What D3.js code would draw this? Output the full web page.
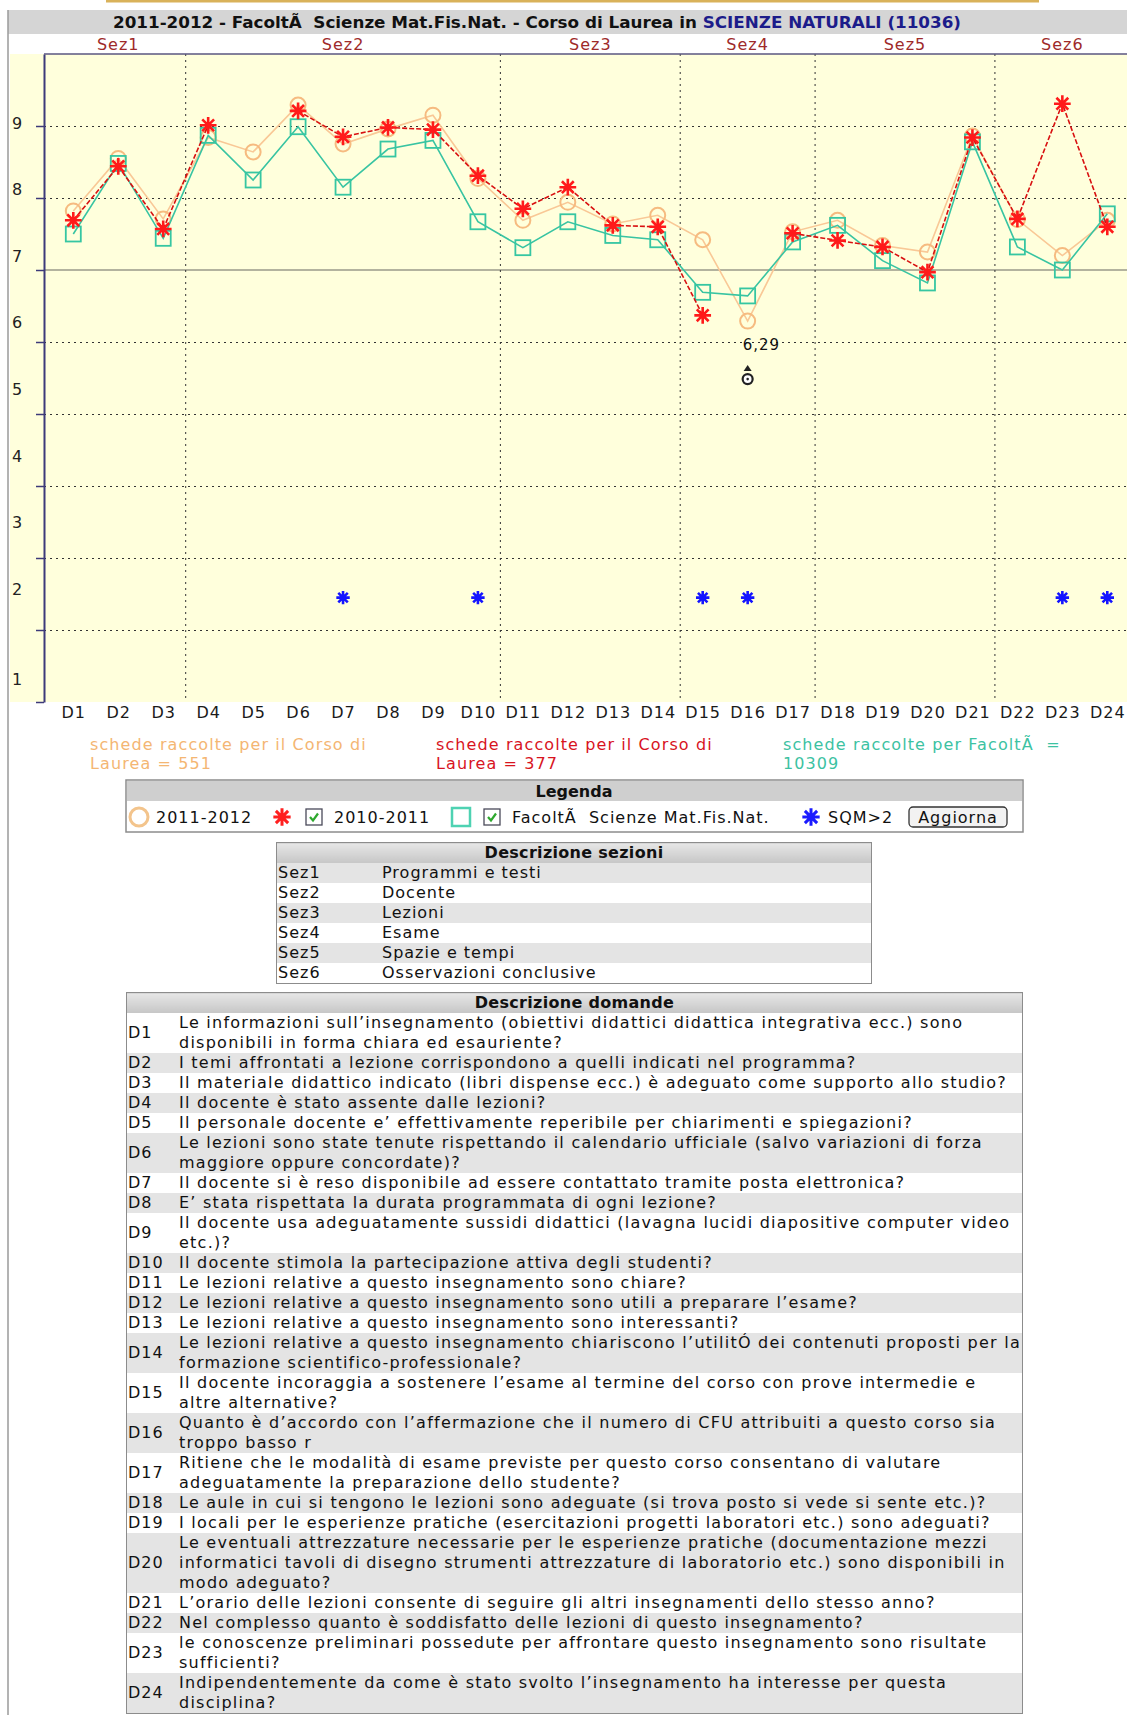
<!DOCTYPE html>
<html>
<head>
<meta charset="utf-8">
<style>
  body { margin: 0; background: #fff; }
  #page { position: relative; width: 1127px; height: 1715px; overflow: hidden; }
  #page svg { position: absolute; left: 0; top: 0; }
  svg text { font-family: "DejaVu Sans", Verdana, sans-serif; }
  .grid line { stroke: #333; stroke-dasharray: 2,4; }
  .grid path { display: none; }
  table.desc {
    position: absolute;
    border-collapse: collapse;
    border: 1px solid #8c8c8c;
    font: 16px "DejaVu Sans", Verdana, sans-serif;
    letter-spacing: 1px;
    line-height: 20px;
    color: #111;
    background: #fff;
  }
  table.desc.wide { letter-spacing: 1.25px; }
  table.desc th {
    background: linear-gradient(#e6e6e6, #c6c6c6);
    font-weight: bold;
    text-align: center;
    padding: 0;
    height: 20px;
    letter-spacing: 0.3px;
  }
  table.desc td { padding: 0 0 0 1px; vertical-align: middle; white-space: pre; }
  table.desc tr.alt td { background: #e4e4e4; }
</style>
</head>
<body>
<div id="page"></div>
<script src="https://cdnjs.cloudflare.com/ajax/libs/d3/7.8.5/d3.min.js"></script>
<script>

// ---- data ----
var questions = ["D1","D2","D3","D4","D5","D6","D7","D8","D9","D10","D11","D12",
                 "D13","D14","D15","D16","D17","D18","D19","D20","D21","D22","D23","D24"];
var questionSection = ["Sez1","Sez1","Sez1","Sez2","Sez2","Sez2","Sez2","Sez2","Sez2","Sez2",
                       "Sez3","Sez3","Sez3","Sez3","Sez4","Sez4","Sez4","Sez5","Sez5","Sez5","Sez5",
                       "Sez6","Sez6","Sez6"];
var sections = ["Sez1","Sez2","Sez3","Sez4","Sez5","Sez6"];
var sectionNames = ["Programmi e testi","Docente","Lezioni","Esame","Spazie e tempi","Osservazioni conclusive"];

var vals2011 = [7.82, 8.55, 7.71, 8.84, 8.64, 9.29, 8.75, 8.96, 9.15, 8.27, 7.69, 7.94,
                7.64, 7.76, 7.42, 6.29, 7.53, 7.69, 7.34, 7.25, 8.86, 7.70, 7.20, 7.69];
var vals2010 = [7.69, 8.44, 7.57, 9.01, null, 9.21, 8.85, 8.98, 8.95, 8.31, 7.85, 8.15,
                7.62, 7.60, 6.37, null, 7.51, 7.41, 7.32, 6.97, 8.84, 7.71, 9.31, 7.60];
var valsFacolta = [7.50, 8.48, 7.44, 8.87, 8.25, 8.99, 8.15, 8.68, 8.80, 7.67, 7.31, 7.67,
                   7.48, 7.42, 6.69, 6.64, 7.39, 7.62, 7.13, 6.82, 8.78, 7.32, 7.00, 7.78];
var sqmQuestions = ["D7","D10","D15","D16","D23","D24"];
var sqmLevel = 2.45;

var yTicks = [1,2,3,4,5,6,7,8,9];
var threshold = 7;
var counts = [551, 377, 10309];

var questionTexts = [
  "Le informazioni sull’insegnamento (obiettivi didattici didattica integrativa ecc.) sono\ndisponibili in forma chiara ed esauriente?",
  "I temi affrontati a lezione corrispondono a quelli indicati nel programma?",
  "Il materiale didattico indicato (libri dispense ecc.) è adeguato come supporto allo studio?",
  "Il docente è stato assente dalle lezioni?",
  "Il personale docente e’ effettivamente reperibile per chiarimenti e spiegazioni?",
  "Le lezioni sono state tenute rispettando il calendario ufficiale (salvo variazioni di forza\nmaggiore oppure concordate)?",
  "Il docente si è reso disponibile ad essere contattato tramite posta elettronica?",
  "E’ stata rispettata la durata programmata di ogni lezione?",
  "Il docente usa adeguatamente sussidi didattici (lavagna lucidi diapositive computer video\netc.)?",
  "Il docente stimola la partecipazione attiva degli studenti?",
  "Le lezioni relative a questo insegnamento sono chiare?",
  "Le lezioni relative a questo insegnamento sono utili a preparare l’esame?",
  "Le lezioni relative a questo insegnamento sono interessanti?",
  "Le lezioni relative a questo insegnamento chiariscono l’utilitÓ dei contenuti proposti per la\nformazione scientifico-professionale?",
  "Il docente incoraggia a sostenere l’esame al termine del corso con prove intermedie e\naltre alternative?",
  "Quanto è d’accordo con l’affermazione che il numero di CFU attribuiti a questo corso sia\ntroppo basso r",
  "Ritiene che le modalità di esame previste per questo corso consentano di valutare\nadeguatamente la preparazione dello studente?",
  "Le aule in cui si tengono le lezioni sono adeguate (si trova posto si vede si sente etc.)?",
  "I locali per le esperienze pratiche (esercitazioni progetti laboratori etc.) sono adeguati?",
  "Le eventuali attrezzature necessarie per le esperienze pratiche (documentazione mezzi\ninformatici tavoli di disegno strumenti attrezzature di laboratorio etc.) sono disponibili in\nmodo adeguato?",
  "L’orario delle lezioni consente di seguire gli altri insegnamenti dello stesso anno?",
  "Nel complesso quanto è soddisfatto delle lezioni di questo insegnamento?",
  "le conoscenze preliminari possedute per affrontare questo insegnamento sono risultate\nsufficienti?",
  "Indipendentemente da come è stato svolto l’insegnamento ha interesse per questa\ndisciplina?"
];

// ---- layout ----
var W = 1127, H = 1715;
var plot = {left: 44, right: 1127, top: 54, bottom: 702};

var page = d3.select("#page");
var svg = page.append("svg").attr("width", W).attr("height", H);

var x = d3.scalePoint().domain(questions).range([73.3, 1107.3]);
var y = d3.scaleLinear().domain([1, 10]).range([plot.bottom, plot.top]);
// the tick labels of the original sit on their own (uneven) spacing
var yLabel = d3.scaleLinear().domain([9, 2, 1]).range([123, 589, 679]);

var itaFormat = d3.formatLocale({decimal: ",", thousands: ".", grouping: [3], currency: ["", "€"]}).format(".2f");

// 8-armed asterisk used by the original chart
var asterisk8 = {
  draw: function(ctx, size) {
    var r = Math.sqrt(size) / 2, d = r * Math.SQRT1_2;
    ctx.moveTo(-r, 0); ctx.lineTo(r, 0);
    ctx.moveTo(0, -r); ctx.lineTo(0, r);
    ctx.moveTo(-d, -d); ctx.lineTo(d, d);
    ctx.moveTo(-d, d); ctx.lineTo(d, -d);
  }
};

// page frame + title bar
svg.append("line").attr("x1", 106).attr("x2", 1039).attr("y1", 1).attr("y2", 1)
  .attr("stroke", "#d9b25a").attr("stroke-width", 3);
svg.append("rect").attr("x", 8).attr("y", 10).attr("width", W - 8).attr("height", 24)
  .attr("fill", "#d5d5d5");
svg.append("line").attr("x1", 8).attr("x2", 8).attr("y1", 10).attr("y2", H)
  .attr("stroke", "#9a9a9a").attr("stroke-width", 1.5);

var title = svg.append("text")
  .attr("x", 113).attr("y", 28)
  .attr("textLength", 848).attr("lengthAdjust", "spacingAndGlyphs")
  .style("font-family", "'DejaVu Sans Condensed', 'DejaVu Sans', sans-serif")
  .style("font-weight", "bold").style("font-size", "16px")
  .attr("fill", "#111");
title.append("tspan").text("2011-2012 - FacoltÃ\u00a0 Scienze Mat.Fis.Nat. - Corso di Laurea in ");
title.append("tspan").attr("fill", "#1c1c8a").text("SCIENZE NATURALI (11036)");

// plot background
svg.append("rect").attr("x", 10).attr("y", plot.top)
  .attr("width", W - 10).attr("height", plot.bottom - plot.top)
  .attr("fill", "#ffffdc");

var g = svg.append("g");

// horizontal grid
g.append("g").attr("class", "grid")
  .attr("transform", "translate(" + plot.left + ",0)")
  .call(d3.axisRight(y).tickValues(yTicks.filter(function(v) { return v !== threshold && v > 1; }))
    .tickSize(plot.right - plot.left).tickFormat(""));
g.append("line")
  .attr("x1", plot.left).attr("x2", plot.right)
  .attr("y1", y(threshold)).attr("y2", y(threshold))
  .attr("stroke", "#9a9a8a").attr("stroke-width", 1.5);

// section dividers
var bounds = [];
questions.forEach(function(q, i) {
  if (i < questions.length - 1 && questionSection[i] !== questionSection[i + 1])
    bounds.push((x(q) + x(questions[i + 1])) / 2);
});
g.selectAll(".vgrid").data(bounds).enter().append("line")
  .attr("class", "vgrid")
  .attr("x1", function(d) { return d; }).attr("x2", function(d) { return d; })
  .attr("y1", plot.top).attr("y2", plot.bottom)
  .attr("stroke", "#333").attr("stroke-dasharray", "2,4");

// axis frame
g.append("g")
  .attr("transform", "translate(" + plot.left + ",0)")
  .call(d3.axisLeft(y).tickValues(yTicks).tickSizeInner(8).tickSizeOuter(0).tickFormat(""))
  .call(function(a) {
    a.select(".domain").attr("stroke", "#3d3a7a").attr("stroke-width", 2);
    a.selectAll(".tick line").attr("stroke", "#3d3a7a").attr("stroke-width", 1.5);
  });
g.append("line").attr("x1", plot.left).attr("x2", plot.right)
  .attr("y1", plot.top).attr("y2", plot.top)
  .attr("stroke", "#5a5680").attr("stroke-width", 1.5);

// y labels
g.selectAll(".ylab").data(yTicks).enter().append("text")
  .attr("class", "ylab")
  .attr("x", 17).attr("y", function(d) { return yLabel(d); })
  .attr("dy", "0.36em").attr("text-anchor", "middle")
  .style("font-size", "16px").attr("fill", "#222")
  .text(function(d) { return d; });

// section labels
g.selectAll(".sez").data(sections).enter().append("text")
  .attr("class", "sez")
  .attr("x", function(s) {
    var qs = questions.filter(function(q, i) { return questionSection[i] === s; });
    return (x(qs[0]) + x(qs[qs.length - 1])) / 2;
  })
  .attr("y", 50).attr("text-anchor", "middle")
  .style("font-size", "16px").style("letter-spacing", "1px")
  .attr("fill", "#9e2a2a")
  .text(function(s) { return s; });

// x labels
g.append("g")
  .attr("transform", "translate(0," + plot.bottom + ")")
  .call(d3.axisBottom(x).tickSize(0).tickPadding(5))
  .call(function(a) {
    a.select(".domain").remove();
    a.selectAll("text").style("font-size", "16px").style("letter-spacing", "1px")
      .style("font-family", "'DejaVu Sans', sans-serif").attr("fill", "#1a1a1a");
  });

// series
var series = [
  {name: "2011-2012", values: vals2011, line: "#f9c896", dash: null, mark: "circle", color: "#f6bb80"},
  {name: "Facolta", values: valsFacolta, line: "#38c4a2", dash: null, mark: "square", color: "#36c6a2"},
  {name: "2010-2011", values: vals2010, line: "#d81010", dash: "5,2", mark: "star", color: "#ff1a1a"}
];

var line = d3.line()
  .defined(function(d) { return d.v != null; })
  .x(function(d) { return x(d.q); })
  .y(function(d) { return y(d.v); });

series.forEach(function(s) {
  var pts = questions.map(function(q, i) { return {q: q, v: s.values[i]}; });
  var sg = g.append("g");
  sg.append("path").datum(pts)
    .attr("d", line).attr("fill", "none")
    .attr("stroke", s.line).attr("stroke-width", 1.6)
    .attr("stroke-dasharray", s.dash);
  var m = sg.selectAll(".m").data(pts.filter(function(d) { return d.v != null; })).enter();
  if (s.mark === "circle") {
    m.append("circle").attr("cx", function(d) { return x(d.q); }).attr("cy", function(d) { return y(d.v); })
      .attr("r", 7.5).attr("fill", "none").attr("stroke", s.color).attr("stroke-width", 2);
  } else if (s.mark === "square") {
    m.append("rect").attr("x", function(d) { return x(d.q) - 7.5; }).attr("y", function(d) { return y(d.v) - 7.5; })
      .attr("width", 15).attr("height", 15).attr("fill", "none").attr("stroke", s.color).attr("stroke-width", 1.8);
  } else {
    m.append("path").attr("d", d3.symbol().type(asterisk8).size(280))
      .attr("transform", function(d) { return "translate(" + x(d.q) + "," + y(d.v) + ")"; })
      .attr("stroke", s.color).attr("stroke-width", 2.6).attr("fill", "none");
  }
});

// SQM > 2 flags
g.selectAll(".sqm").data(sqmQuestions).enter().append("path")
  .attr("class", "sqm")
  .attr("d", d3.symbol().type(asterisk8).size(180))
  .attr("transform", function(q) { return "translate(" + x(q) + "," + y(sqmLevel) + ")"; })
  .attr("stroke", "#1414ff").attr("stroke-width", 2.6).attr("fill", "none");

// minimum annotation
var minIdx = d3.minIndex(vals2011);
var mx = x(questions[minIdx]), my = y(vals2011[minIdx]);
g.append("text").attr("x", mx - 5).attr("y", my + 29)
  .style("font-size", "15px").style("letter-spacing", "1px").attr("fill", "#111")
  .text(itaFormat(vals2011[minIdx]));
g.append("circle").attr("cx", mx).attr("cy", my + 58).attr("r", 5)
  .attr("fill", "#fff").attr("stroke", "#222").attr("stroke-width", 2.2);
g.append("circle").attr("cx", mx).attr("cy", my + 58).attr("r", 1.3).attr("fill", "#222");
g.append("path")
  .attr("d", "M" + (mx - 4) + "," + (my + 50) + "L" + (mx + 4) + "," + (my + 50) + "L" + mx + "," + (my + 44) + "Z")
  .attr("fill", "#222");

// sample counts
var countInfo = [
  {lines: ["schede raccolte per il Corso di", "Laurea = " + counts[0]], x: 90, color: "#f4b673"},
  {lines: ["schede raccolte per il Corso di", "Laurea = " + counts[1]], x: 436, color: "#d8141e"},
  {lines: ["schede raccolte per FacoltÃ\u00a0 =", "" + counts[2]], x: 783, color: "#3cc2a2"}
];
countInfo.forEach(function(c) {
  var t = svg.append("text").attr("x", c.x).attr("y", 750)
    .style("font-size", "16px").style("letter-spacing", "1.1px").attr("fill", c.color);
  c.lines.forEach(function(l, i) {
    t.append("tspan").attr("x", c.x).attr("dy", i ? 19 : 0).text(l);
  });
});

// legend
var lg = svg.append("g");
lg.append("rect").attr("x", 126).attr("y", 780).attr("width", 897).attr("height", 52)
  .attr("fill", "#fff").attr("stroke", "#8c8c8c").attr("stroke-width", 1.5);
lg.append("rect").attr("x", 127).attr("y", 781).attr("width", 895).attr("height", 20)
  .attr("fill", "#cfcfcf");
lg.append("text").attr("x", 574).attr("y", 797).attr("text-anchor", "middle")
  .style("font-size", "16px").style("font-weight", "bold").attr("fill", "#111")
  .text("Legenda");

var ly = 817;
lg.append("circle").attr("cx", 139).attr("cy", ly).attr("r", 9)
  .attr("fill", "none").attr("stroke", "#f3c48c").attr("stroke-width", 3);
lg.append("path").attr("d", d3.symbol().type(asterisk8).size(300))
  .attr("transform", "translate(282," + ly + ")")
  .attr("stroke", "#ff2020").attr("stroke-width", 3).attr("fill", "none");
lg.append("rect").attr("x", 452).attr("y", ly - 9).attr("width", 18).attr("height", 18)
  .attr("fill", "none").attr("stroke", "#4ed2b2").attr("stroke-width", 2.5);
lg.append("path").attr("d", d3.symbol().type(asterisk8).size(300))
  .attr("transform", "translate(811," + ly + ")")
  .attr("stroke", "#1a1aff").attr("stroke-width", 3).attr("fill", "none");

[314, 492].forEach(function(cx) {
  lg.append("rect").attr("x", cx - 8).attr("y", ly - 8).attr("width", 16).attr("height", 16)
    .attr("fill", "#fff").attr("stroke", "#4a4a5a").attr("stroke-width", 1.3);
  lg.append("path").attr("d", "M" + (cx - 4) + "," + ly + "l3,3.5l5,-7")
    .attr("fill", "none").attr("stroke", "#2ea82e").attr("stroke-width", 2.2);
});

var legendTexts = [
  {x: 156, t: "2011-2012"},
  {x: 334, t: "2010-2011"},
  {x: 512, t: "FacoltÃ\u00a0 Scienze Mat.Fis.Nat."},
  {x: 828, t: "SQM>2"}
];
lg.selectAll(".lt").data(legendTexts).enter().append("text")
  .attr("x", function(d) { return d.x; }).attr("y", ly + 6)
  .style("font-size", "16px").style("letter-spacing", "1px").attr("fill", "#111")
  .text(function(d) { return d.t; });

lg.append("rect").attr("x", 909).attr("y", ly - 10).attr("width", 98).attr("height", 20)
  .attr("rx", 4).attr("fill", "#f2f2f2").attr("stroke", "#333").attr("stroke-width", 1.3);
lg.append("text").attr("x", 958).attr("y", ly + 5.5).attr("text-anchor", "middle")
  .style("font-size", "16px").style("letter-spacing", "1px").attr("fill", "#111")
  .text("Aggiorna");

// section description table
var t1 = page.append("table").attr("class", "desc")
  .style("left", "276px").style("top", "842px").style("width", "596px");
t1.append("tr").append("th").attr("colspan", 2).text("Descrizione sezioni");
var r1 = t1.selectAll("tr.row").data(sections).enter().append("tr")
  .attr("class", function(d, i) { return i % 2 === 0 ? "row alt" : "row"; });
r1.append("td").style("width", "103px").text(function(d) { return d; });
r1.append("td").text(function(d, i) { return sectionNames[i]; });

// question description table
var t2 = page.append("table").attr("class", "desc wide")
  .style("left", "126px").style("top", "992px").style("width", "897px");
t2.append("tr").append("th").attr("colspan", 2).text("Descrizione domande");
var r2 = t2.selectAll("tr.row").data(questions).enter().append("tr")
  .attr("class", function(d, i) { return i % 2 === 1 ? "row alt" : "row"; });
r2.append("td").style("width", "50px").style("letter-spacing", "1px").text(function(d) { return d; });
r2.append("td").text(function(d, i) { return questionTexts[i]; });

</script>
</body>
</html>
